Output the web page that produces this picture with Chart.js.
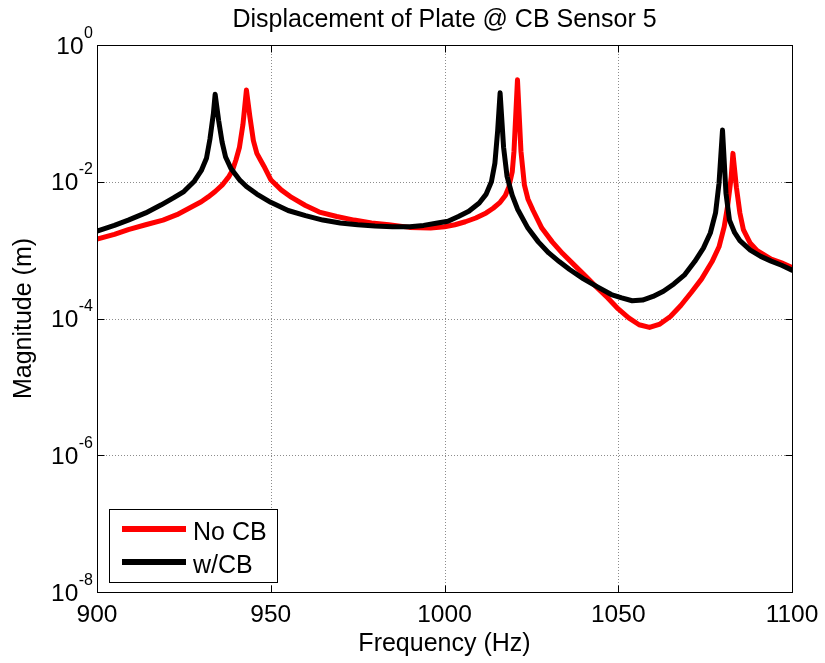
<!DOCTYPE html>
<html>
<head>
<meta charset="utf-8">
<script src="https://cdn.jsdelivr.net/npm/chart.js@4"></script>
<style>
  html, body { margin: 0; padding: 0; background: #fff; }
  #wrap { width: 825px; height: 663px; }
</style>
</head>
<body>
<div id="wrap"><canvas id="c" width="825" height="663"></canvas></div>
<script>
// Frequency response magnitude at CB sensor 5, with and without the CB.
const titleText = 'Displacement of Plate @ CB Sensor 5';
const xTitle = 'Frequency (Hz)';
const yTitle = 'Magnitude (m)';
const seriesLabels = ['No CB', 'w/CB'];

const xTicks = [900, 950, 1000, 1050, 1100];
const yTicks = [1e-8, 1e-6, 1e-4, 1e-2, 1];

// No CB
const noCbFreq = [900, 905, 909, 914, 919, 923, 926.5, 930, 932, 934, 936, 938, 939, 940, 941, 942, 943, 944, 945, 946, 947, 948, 950, 953, 956, 960, 964, 969, 974, 979, 984, 990, 996, 1000, 1003, 1006, 1009, 1012, 1014, 1016, 1017.5, 1018.5, 1019.5, 1020, 1021, 1022, 1023, 1024, 1025.5, 1028, 1031, 1034, 1037, 1040.5, 1044, 1047, 1050, 1053, 1056, 1059, 1062, 1065, 1068, 1071, 1074, 1077, 1079, 1080.5, 1081.5, 1082.5, 1083, 1084, 1085, 1086, 1088, 1090, 1094, 1097, 1100];
const noCbMag = [1.45e-3, 1.70e-3, 2.0e-3, 2.35e-3, 2.75e-3, 3.3e-3, 4.1e-3, 5.1e-3, 6.0e-3, 7.2e-3, 8.9e-3, 1.2e-2, 1.48e-2, 2.1e-2, 3.2e-2, 6.9e-2, 0.22, 8.9e-2, 4.0e-2, 2.6e-2, 2.1e-2, 1.7e-2, 1.07e-2, 7.6e-3, 5.9e-3, 4.5e-3, 3.6e-3, 3.1e-3, 2.75e-3, 2.5e-3, 2.35e-3, 2.15e-3, 2.1e-3, 2.2e-3, 2.35e-3, 2.6e-3, 2.95e-3, 3.5e-3, 4.1e-3, 5.0e-3, 6.3e-3, 8.3e-3, 1.4e-2, 2.8e-2, 0.31, 2.8e-2, 8.9e-3, 5.6e-3, 3.8e-3, 2.1e-3, 1.32e-3, 8.9e-4, 6.3e-4, 4.2e-4, 2.8e-4, 2.0e-4, 1.38e-4, 1.02e-4, 8.1e-5, 7.4e-5, 8.3e-5, 1.07e-4, 1.55e-4, 2.4e-4, 3.8e-4, 6.8e-4, 1.12e-3, 2.2e-3, 4.5e-3, 1.17e-2, 2.6e-2, 8.3e-3, 3.5e-3, 2.0e-3, 1.26e-3, 9.8e-4, 7.4e-4, 6.5e-4, 5.6e-4];

// w/CB
const wCbFreq = [900, 905, 909, 914, 918.5, 922, 925, 928, 930, 931.5, 932.5, 933.5, 934, 935, 936, 937, 938.5, 941, 943, 946, 950, 955, 960, 965, 970, 975, 980, 985, 990, 994, 998, 1001, 1004, 1007, 1010, 1012, 1013.5, 1014.5, 1015.3, 1016, 1017, 1018, 1019.5, 1021, 1024, 1027, 1030, 1033, 1036, 1040, 1044, 1048, 1051, 1054, 1057, 1060, 1063, 1066, 1069, 1072, 1074.5, 1076.5, 1078, 1079, 1080, 1081, 1082, 1083.5, 1085, 1088, 1091, 1094, 1097, 1100];
const wCbMag = [1.9e-3, 2.3e-3, 2.75e-3, 3.5e-3, 4.6e-3, 5.8e-3, 7.2e-3, 1.02e-2, 1.45e-2, 2.2e-2, 4.2e-2, 0.1, 0.19, 7.9e-2, 3.8e-2, 2.3e-2, 1.58e-2, 1.07e-2, 8.5e-3, 6.6e-3, 5.0e-3, 3.8e-3, 3.2e-3, 2.75e-3, 2.5e-3, 2.35e-3, 2.25e-3, 2.2e-3, 2.2e-3, 2.3e-3, 2.5e-3, 2.65e-3, 3.1e-3, 3.7e-3, 4.9e-3, 6.6e-3, 1.0e-2, 1.86e-2, 5.6e-2, 0.20, 3.2e-2, 1.2e-2, 6.3e-3, 4.0e-3, 2.1e-3, 1.32e-3, 9.1e-4, 6.8e-4, 5.2e-4, 3.8e-4, 2.9e-4, 2.24e-4, 2.0e-4, 1.82e-4, 1.86e-4, 2.1e-4, 2.5e-4, 3.2e-4, 4.3e-4, 6.8e-4, 1.07e-3, 1.78e-3, 3.5e-3, 9.5e-3, 5.7e-2, 6.8e-3, 2.75e-3, 1.8e-3, 1.38e-3, 1.0e-3, 8.1e-4, 6.9e-4, 6.0e-4, 5.1e-4];

const FONT = '"Liberation Sans", Arial, Helvetica, sans-serif';
const colors = ['#ff0000', '#000000'];

function toPoints(fs, ms) { return fs.map((f, i) => ({ x: f, y: ms[i] })); }

// Axes furniture in the MATLAB style: dotted grid, box, inward ticks, labels.
const axesPlugin = {
  id: 'matlabAxes',
  beforeDatasetsDraw(chart) {
    const { ctx, chartArea: a, scales: { x, y } } = chart;
    ctx.save();
    ctx.strokeStyle = 'rgba(0,0,0,0.45)';
    ctx.lineWidth = 1;
    ctx.setLineDash([1, 2]);
    ctx.beginPath();
    xTicks.forEach(v => {
      const px = Math.round(x.getPixelForValue(v)) + 0.5;
      ctx.moveTo(px, a.top); ctx.lineTo(px, a.bottom);
    });
    yTicks.forEach(v => {
      const py = Math.round(y.getPixelForValue(v)) + 0.5;
      ctx.moveTo(a.left, py); ctx.lineTo(a.right, py);
    });
    ctx.stroke();
    ctx.restore();
  },
  afterDatasetsDraw(chart) {
    const { ctx, chartArea: a, scales: { x, y } } = chart;
    ctx.save();
    // box
    ctx.strokeStyle = '#000';
    ctx.lineWidth = 1;
    ctx.setLineDash([]);
    const L = Math.round(a.left) + 0.5, R = Math.round(a.right) + 0.5;
    const T = Math.round(a.top) + 0.5, B = Math.round(a.bottom) + 0.5;
    ctx.strokeRect(L, T, R - L, B - T);
    // inward tick marks
    const tl = 7;
    ctx.beginPath();
    xTicks.forEach(v => {
      const px = Math.round(x.getPixelForValue(v)) + 0.5;
      ctx.moveTo(px, B); ctx.lineTo(px, B - tl);
      ctx.moveTo(px, T); ctx.lineTo(px, T + tl);
    });
    yTicks.forEach(v => {
      const py = Math.round(y.getPixelForValue(v)) + 0.5;
      ctx.moveTo(L, py); ctx.lineTo(L + tl, py);
      ctx.moveTo(R, py); ctx.lineTo(R - tl, py);
    });
    ctx.stroke();

    ctx.fillStyle = '#000';
    // x tick labels
    ctx.font = '24.5px ' + FONT;
    ctx.textAlign = 'center';
    ctx.textBaseline = 'alphabetic';
    xTicks.forEach(v => {
      ctx.fillText(String(v), x.getPixelForValue(v), 621.5);
    });
    // y tick labels as 10 with a raised exponent
    yTicks.forEach(v => {
      const py = y.getPixelForValue(v);
      const exp = String(Math.round(Math.log10(v)));
      ctx.font = '16px ' + FONT;
      ctx.textAlign = 'right';
      ctx.fillText(exp, 93, py - 7.5);
      const ew = ctx.measureText(exp).width;
      ctx.font = '24.5px ' + FONT;
      ctx.fillText('10', 93 - ew - 0.5, py + 8.5);
    });
    // title and axis titles
    ctx.font = '25px ' + FONT;
    ctx.textAlign = 'center';
    ctx.fillText(titleText, (a.left + a.right) / 2, 27);
    ctx.fillText(xTitle, (a.left + a.right) / 2, 651);
    ctx.save();
    ctx.translate(31, (a.top + a.bottom) / 2);
    ctx.rotate(-Math.PI / 2);
    ctx.fillText(yTitle, 0, 0);
    ctx.restore();

    // legend box in the lower left corner
    const lx = 109.5, ly = 509.5, lw = 168, lh = 73;
    ctx.fillStyle = '#fff';
    ctx.fillRect(lx, ly, lw, lh);
    ctx.strokeStyle = '#000';
    ctx.lineWidth = 1;
    ctx.strokeRect(lx, ly, lw, lh);
    const rows = [529, 562];
    chart.data.datasets.forEach((ds, i) => {
      ctx.strokeStyle = ds.borderColor;
      ctx.lineWidth = 6;
      ctx.lineCap = 'butt';
      ctx.beginPath();
      ctx.moveTo(122, rows[i]); ctx.lineTo(186, rows[i]);
      ctx.stroke();
      ctx.fillStyle = '#000';
      ctx.font = '25px ' + FONT;
      ctx.textAlign = 'left';
      ctx.fillText(ds.label, 193, rows[i] + 11);
    });
    ctx.restore();
  }
};

new Chart(document.getElementById('c'), {
  type: 'line',
  data: {
    datasets: [
      { label: seriesLabels[0], data: toPoints(noCbFreq, noCbMag), borderColor: colors[0], order: 1 },
      { label: seriesLabels[1], data: toPoints(wCbFreq, wCbMag), borderColor: colors[1], order: 0 }
    ]
  },
  options: {
    responsive: false,
    animation: false,
    events: [],
    layout: { padding: { top: 45, right: 33, left: 0, bottom: 0 } },
    elements: {
      line: { borderWidth: 5, tension: 0, borderJoinStyle: 'round', borderCapStyle: 'round', fill: false },
      point: { radius: 0 }
    },
    plugins: { legend: { display: false }, title: { display: false }, tooltip: { enabled: false } },
    scales: {
      x: {
        type: 'linear', min: 900, max: 1100,
        grid: { display: false }, border: { display: false },
        ticks: { display: false },
        afterFit(s) { s.height = 71; }
      },
      y: {
        type: 'logarithmic', min: 1e-8, max: 1,
        grid: { display: false }, border: { display: false },
        ticks: { display: false },
        afterBuildTicks(s) { s.ticks = yTicks.map(v => ({ value: v })); },
        afterFit(s) { s.width = 97; }
      }
    }
  },
  plugins: [axesPlugin]
});
</script>
</body>
</html>
